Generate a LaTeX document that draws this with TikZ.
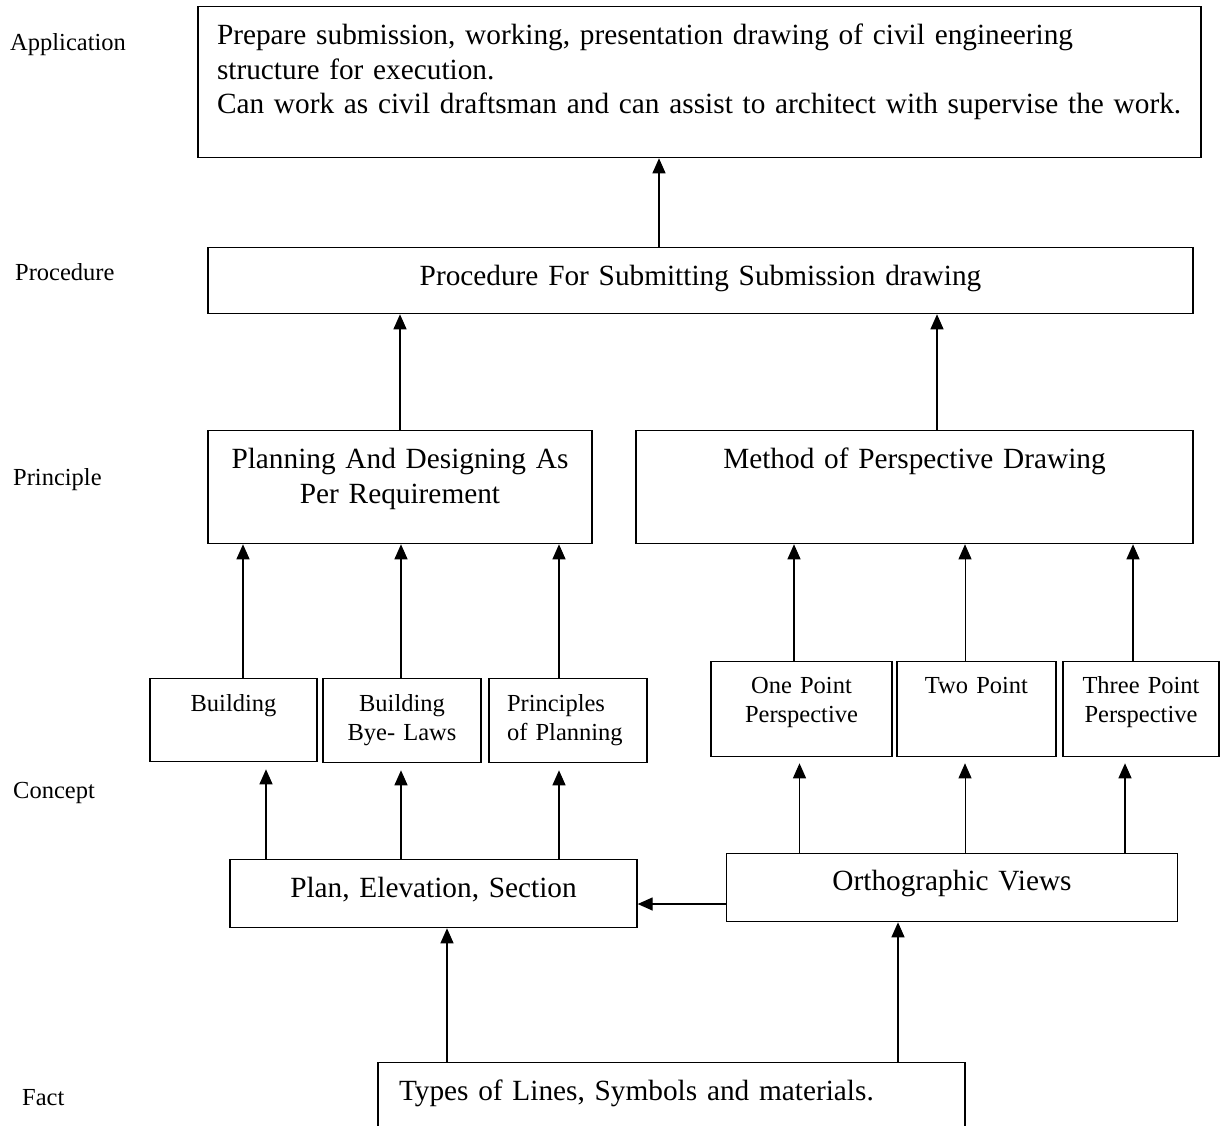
\documentclass[tikz,border=0pt]{standalone}
\usepackage{fontspec}
\setmainfont{Liberation Serif}
\usetikzlibrary{arrows.meta}

\tikzset{
	blk/.style={draw, line width=1.3pt, anchor=north, inner sep=0pt, align=center},
	big/.style={font=\fontsize{29.3}{34.5}\selectfont},
	sml/.style={font=\fontsize{24.5}{28.5}\selectfont},
	lvl/.style={anchor=base west, inner sep=0pt, font=\fontsize{24.5}{28.5}\selectfont},
	arr/.style={->, line width=1.3pt},
}

\begin{document}
\begin{tikzpicture}[x=1pt, y=-1pt, >={Triangle[length=15pt, width=13pt]}]
		\useasboundingbox (0,0) rectangle (1220,1126);
		\clip (0,0) rectangle (1220,1126);
		%levels
			\node[lvl] (lapp) at (10,50.5) {Application};
			\node[lvl] (lproc) at (15,280) {Procedure};
			\node[lvl] (lprin) at (13,485) {Principle};
			\node[lvl] (lcon) at (13,798) {Concept};
			\node[lvl] (lfact) at (22,1105) {Fact};
		%top
			\node[blk, big, align=left, inner xsep=19pt, text width=965pt, text height=38pt, text depth=113pt] (app) at (699.5,6) {\mbox{Prepare submission, working, presentation drawing of civil engineering}\\structure for execution.\\\mbox{Can work as civil draftsman and can assist to architect with supervise the work.}};
			\node[blk, big, text width=985pt, text height=38pt, text depth=28pt] (proc) at (700.5,247) {Procedure For Submitting Submission drawing};
		%principle
			\node[blk, big, text width=384pt, text height=38pt, text depth=75pt] (plng) at (400,430) {Planning And Designing As\\Per Requirement};
			\node[blk, big, text width=557pt, text height=38pt, text depth=75pt] (meth) at (914.5,430) {Method of Perspective Drawing};
		%concept
			%left side
			\node[blk, sml, text width=167pt, text height=33pt, text depth=50pt] (bldg) at (233.5,678) {Building};
			\node[blk, sml, text width=158pt, text height=33pt, text depth=51pt] (byel) at (402,678) {Building\\Bye- Laws};
			\node[blk, sml, align=left, inner xsep=18pt, text width=122pt, text height=33pt, text depth=51pt] (prin) at (568,678) {Principles\\of Planning};
			%right side
			\node[blk, sml, text width=181pt, text height=32pt, text depth=63pt] (onep) at (801.5,661) {One Point\\Perspective};
			\node[blk, sml, text width=159pt, text height=32pt, text depth=63pt] (twop) at (976.5,661) {Two Point};
			\node[blk, sml, text width=156pt, text height=32pt, text depth=63pt] (thrp) at (1141,661) {Three Point\\Perspective};
			%views
			\node[blk, big, text width=407pt, text height=38pt, text depth=30pt] (pes) at (433.5,859) {Plan, Elevation, Section};
			\node[blk, big, text width=451pt, text height=37pt, text depth=31pt] (orth) at (952,853) {Orthographic Views};
		%fact
			\node[blk, big, align=left, inner xsep=21pt, text width=545pt, text height=38pt, text depth=60pt] (fact) at (671.5,1062) {Types of Lines, Symbols and materials.};
		%arrows
			\draw[arr] (proc.north -| 659,0) -- (app.south -| 659,0);
			\draw[arr] (plng.north -| 400,0) -- (proc.south -| 400,0);
			\draw[arr] (meth.north -| 937,0) -- (proc.south -| 937,0);
			\draw[arr] (bldg.north -| 243,0) -- (plng.south -| 243,0);
			\draw[arr] (byel.north -| 401,0) -- (plng.south -| 401,0);
			\draw[arr] (prin.north -| 559,0) -- (plng.south -| 559,0);
			\draw[arr] (onep.north -| 794,0) -- (meth.south -| 794,0);
			\draw[arr, line width=0.9pt] (twop.north -| 965,0) -- (meth.south -| 965,0);
			\draw[arr] (thrp.north -| 1133,0) -- (meth.south -| 1133,0);
			\draw[arr, shorten >=7pt] (pes.north -| 266,0) -- (bldg.south -| 266,0);
			\draw[arr, shorten >=7pt] (pes.north -| 401,0) -- (byel.south -| 401,0);
			\draw[arr, shorten >=7pt] (pes.north -| 559,0) -- (prin.south -| 559,0);
			\draw[arr, shorten >=6pt] (orth.north -| 799.5,0) -- (onep.south -| 799.5,0);
			\draw[arr, line width=0.9pt, shorten >=6pt] (orth.north -| 965,0) -- (twop.south -| 965,0);
			\draw[arr, shorten >=6pt] (orth.north -| 1125,0) -- (thrp.south -| 1125,0);
			\draw[arr] (orth.west |- 0,904) -- (pes.east |- 0,904);
			\draw[arr] (fact.north -| 447,0) -- (pes.south -| 447,0);
			\draw[arr] (fact.north -| 898,0) -- (orth.south -| 898,0);
\end{tikzpicture}
\end{document}
